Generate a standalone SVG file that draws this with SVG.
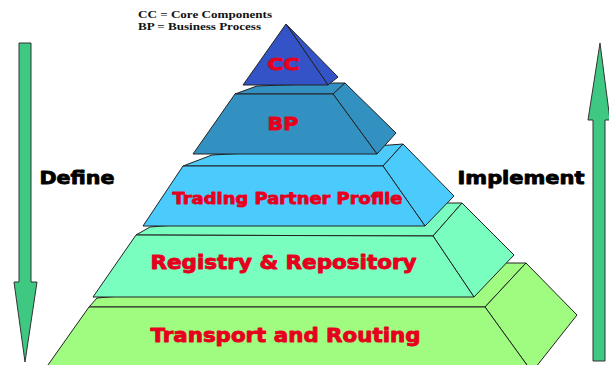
<svg xmlns="http://www.w3.org/2000/svg" width="609" height="365" viewBox="0 0 609 365">
<style>
.edge{stroke:#222;stroke-width:1;stroke-linejoin:round}
.arrow{fill:#3ec882;stroke:#333;stroke-width:1}
.lbl{font-family:"DejaVu Sans","Liberation Sans",sans-serif;font-weight:bold;fill:#e6001e;stroke:#e6001e;stroke-width:0.9;stroke-linejoin:round}
.side{font-family:"DejaVu Sans","Liberation Sans",sans-serif;font-weight:bold;fill:#000;stroke:#000;stroke-width:0.8;stroke-linejoin:round}
.legend{font-family:"Liberation Serif","Times New Roman",serif;font-weight:bold;fill:#111;font-size:11px}
.t{fill:#9ffc80}.r{fill:#7afec0}.p{fill:#4acbfc}.b{fill:#3391c1}.c{fill:#3453c6}
</style>
<rect width="609" height="365" fill="#fff"/>
<g id="define-arrow">
<polygon class="arrow" points="19,43 31,43 31,282 37,282 25,362 14,282 19,282"/>
<text class="side" x="39.5" y="184" font-size="17" textLength="75" lengthAdjust="spacingAndGlyphs">Define</text>
</g>
<g id="implement-arrow">
<polygon class="arrow" points="600,43 610,120 605,120 605,361 593,361 593,120 588,120"/>
<text class="side" x="457.5" y="184" font-size="17" textLength="127" lengthAdjust="spacingAndGlyphs">Implement</text>
</g>
<g id="transport">
<polygon class="t edge" points="89,307 97,298 505,263 526,263 485,307"/>
<polygon class="t edge" points="485,307 526,263 577,315 532,372"/>
<polygon class="t edge" points="89,307 485,307 532,372 43,372"/>
<text class="lbl" x="150.5" y="342" font-size="20" textLength="270" lengthAdjust="spacingAndGlyphs">Transport and Routing</text>
</g>
<g id="registry">
<polygon class="r edge" points="136,235 150,227 440,203 462,203 433,236"/>
<polygon class="r edge" points="433,236 462,203 514,255 474,297"/>
<polygon class="r edge" points="136,235 433,236 474,297 93,297"/>
<text class="lbl" x="150.5" y="269" font-size="19" textLength="266" lengthAdjust="spacingAndGlyphs">Registry &amp; Repository</text>
</g>
<g id="trading-partner-profile">
<polygon class="p edge" points="183,166 212,155 390,145 403,144 383,166"/>
<polygon class="p edge" points="383,166 403,144 454,196 425,226"/>
<polygon class="p edge" points="183,166 383,166 425,226 143,226"/>
<text class="lbl" x="172.5" y="204" font-size="16.5" textLength="230" lengthAdjust="spacingAndGlyphs">Trading Partner Profile</text>
</g>
<g id="bp">
<polygon class="b edge" points="235,94 257,86 335,83 345,83 333,94"/>
<polygon class="b edge" points="333,94 345,83 396,133 377,154"/>
<polygon class="b edge" points="235,94 333,94 377,154 193,154"/>
<text class="lbl" x="267.5" y="130" font-size="18" textLength="31" lengthAdjust="spacingAndGlyphs">BP</text>
</g>
<g id="cc">
<polygon class="c edge" points="286,24 338,77 328,85"/>
<polygon class="c edge" points="286,24 328,85 243,85"/>
<text class="lbl" x="267.5" y="70" font-size="16" textLength="32" lengthAdjust="spacingAndGlyphs">CC</text>
</g>
<g id="legend">
<text class="legend" x="138" y="18" textLength="134" lengthAdjust="spacingAndGlyphs">CC = Core Components</text>
<text class="legend" x="138" y="30" textLength="123" lengthAdjust="spacingAndGlyphs">BP = Business Process</text>
</g>
</svg>
